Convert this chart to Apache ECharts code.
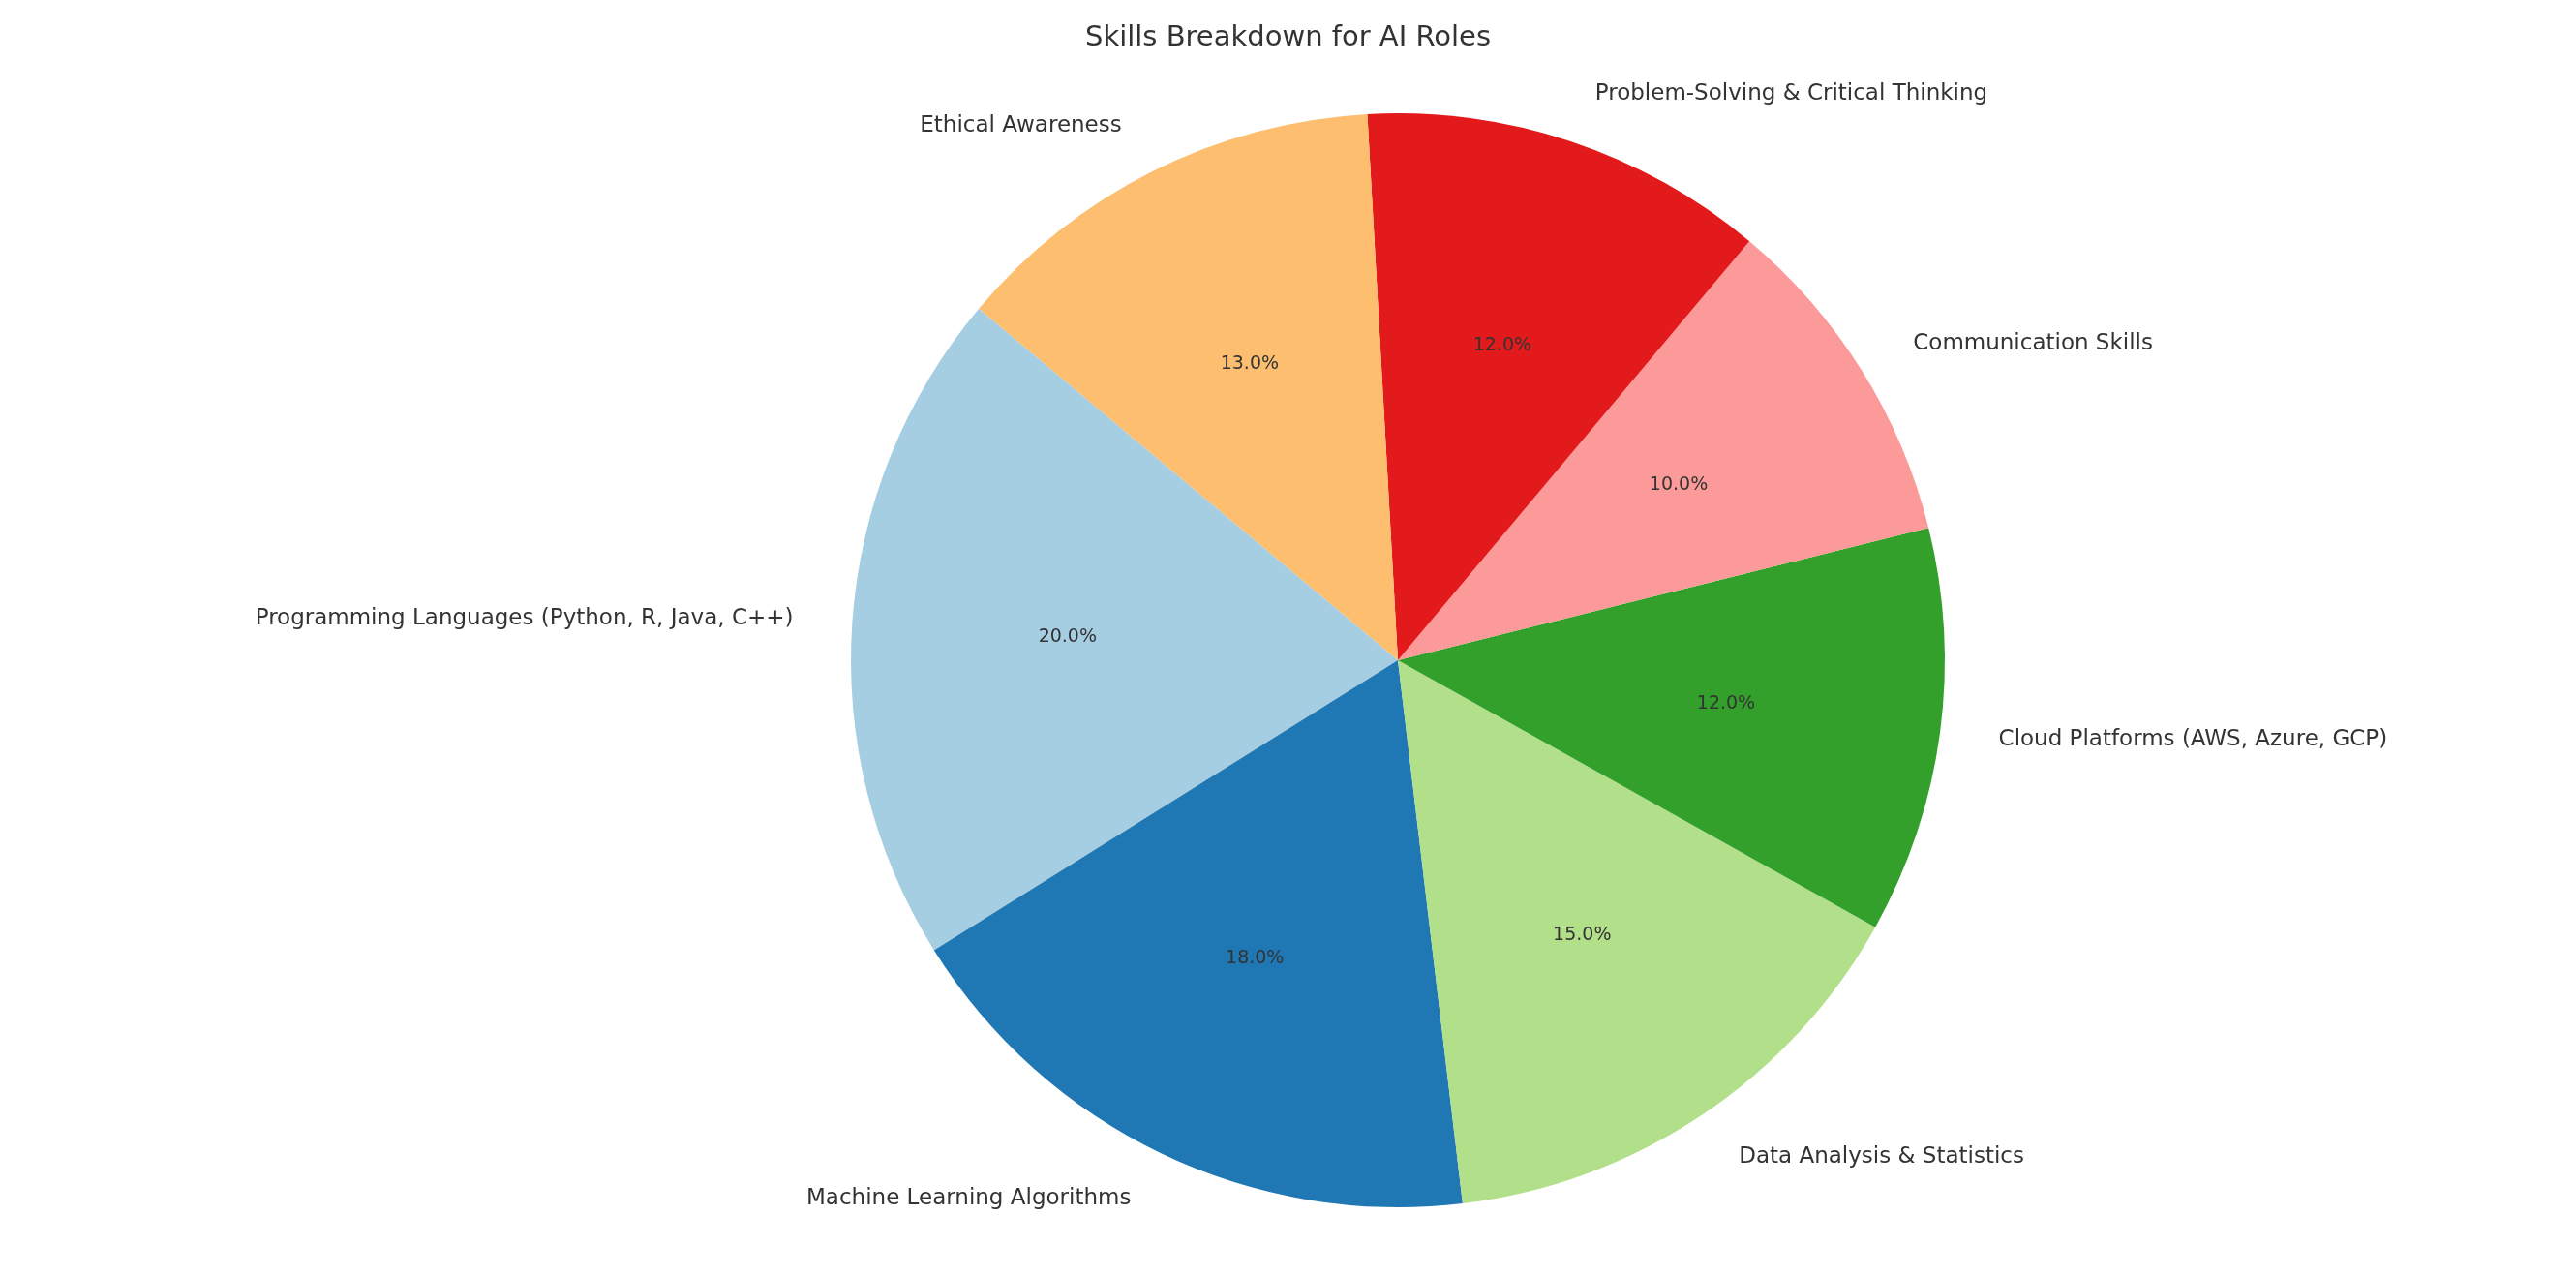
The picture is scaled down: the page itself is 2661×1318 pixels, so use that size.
<!DOCTYPE html>
<html>
<head>
<meta charset="utf-8">
<script src="https://cdn.jsdelivr.net/npm/echarts@6/dist/echarts.min.js"></script>
<style>html,body{margin:0;padding:0;background:#fff}#chart{width:2661px;height:1318px}</style>
</head>
<body>
<div id="chart"></div>
<script>
// skills and their share
var skills = ['Programming Languages (Python, R, Java, C++)', 'Machine Learning Algorithms',
    'Data Analysis & Statistics', 'Cloud Platforms (AWS, Azure, GCP)', 'Communication Skills',
    'Problem-Solving & Critical Thinking', 'Ethical Awareness'];
var shares = [20, 18, 15, 12, 10, 12, 13];
var colors = ['#a6cee3', '#1f78b4', '#b2df8a', '#33a02c', '#fb9a99', '#e31a1c', '#fdbf6f'];

var data = skills.map(function (s, i) {
    return {name: s, value: shares[i], itemStyle: {color: colors[i]}};
});
var center = [1444, 682];
var R = 565;

var chart = echarts.init(document.getElementById('chart'));
chart.setOption({
    animation: false,
    textStyle: {fontFamily: 'DejaVu Sans'},
    title: {
        text: 'Skills Breakdown for AI Roles', left: 'center', top: 20,
        textStyle: {fontSize: 29, fontWeight: 'normal', color: '#333', fontFamily: 'DejaVu Sans'}
    },
    series: [{
        // slices + outer names
        type: 'pie', center: center, radius: [0, R],
        startAngle: 140, clockwise: false, avoidLabelOverlap: false,
        data: data,
        label: {show: true, position: 'outside', fontSize: 23, color: '#333', formatter: '{b}'},
        labelLine: {show: false, length: 52, length2: 4},
        emphasis: {disabled: true}
    }, {
        // percent labels at 0.6 R
        type: 'pie', center: center, radius: [R * 0.2, R],
        startAngle: 140, clockwise: false, silent: true,
        data: skills.map(function (s, i) { return {name: s, value: shares[i]}; }),
        itemStyle: {color: 'transparent'},
        label: {show: true, position: 'inside', fontSize: 19, color: '#333',
            formatter: function (p) { return p.value.toFixed(1) + '%'; }},
        labelLine: {show: false}
    }]
});
</script>
</body>
</html>
